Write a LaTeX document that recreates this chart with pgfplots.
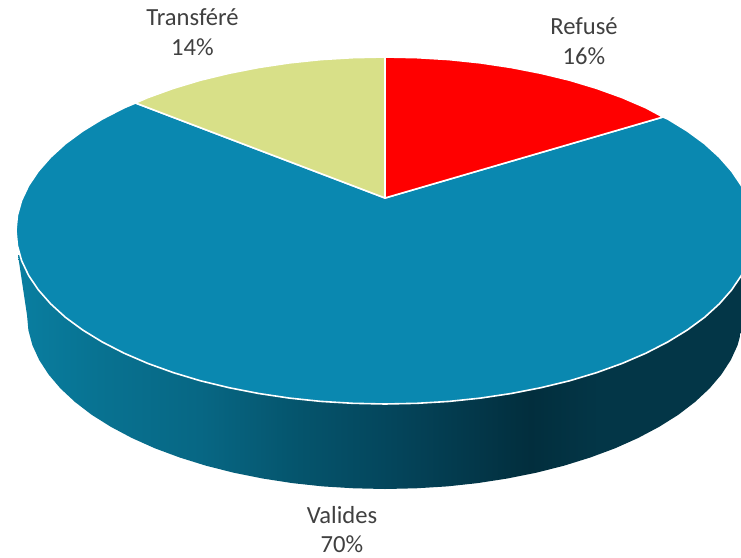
\documentclass[border=0pt]{standalone}
\usepackage{fontspec}
\setmainfont{Carlito}
\usepackage{pgfplots}
\pgfplotsset{compat=1.18}
\definecolor{topblue}{RGB}{10,136,176}
\definecolor{lblgray}{RGB}{64,64,64}
\definecolor{trgreen}{RGB}{216,224,136}
\definecolor{s0}{RGB}{9,126,160}
\definecolor{s1}{RGB}{8,114,145}
\definecolor{s2}{RGB}{7,103,132}
\definecolor{s3}{RGB}{5,84,108}
\definecolor{s4}{RGB}{4,68,90}
\definecolor{s5}{RGB}{2,46,61}
\definecolor{s6}{RGB}{3,54,71}
\pgfdeclarehorizontalshading{sidefill}{100bp}{
 color(0bp)=(s0); color(25bp)=(s0); color(30.6bp)=(s1); color(37.4bp)=(s2);
 color(44.2bp)=(s3); color(51bp)=(s4); color(59.9bp)=(s5); color(64.6bp)=(s6);
 color(75bp)=(s6); color(100bp)=(s6)}
\tikzset{lbl/.style={font=\fontsize{24.6}{24.6}\selectfont, text=lblgray, anchor=base, inner sep=0pt}}
\begin{document}
\begin{tikzpicture}
\begin{axis}[
  scale only axis, width=741pt, height=557pt,
  xmin=0, xmax=741, ymin=0, ymax=557, y dir=reverse,
  hide axis, clip=true,
  every axis plot/.append style={line join=round},
]
% side wall
\addplot[shading=sidefill, draw=none, forget plot] coordinates {
 (18,255) (27,315) (28.4,330.2) (32.4,345.2) (39.2,360) (48.6,374.5) (60.5,388.5) (75,402)
 (91.7,414.8) (110.8,426.8) (131.9,438) (154.9,448.3) (179.7,457.5) (206,465.7) (233.7,472.7)
 (262.6,478.5) (292.3,483.1) (322.8,486.4) (353.8,488.3) (385,489) (416.2,488.3) (447.2,486.4)
 (477.7,483.1) (507.4,478.5) (536.3,472.7) (564,465.7) (590.3,457.5) (615.1,448.3) (638.1,438)
 (659.2,426.8) (678.3,414.8) (695,402) (709.5,388.5) (721.4,374.5) (730.8,360) (737.6,345.2)
 (741.6,330.2) (743,315) (752,255) } --cycle;
% Valides 70%
\addplot[fill=topblue, draw=white, line width=1.6pt, forget plot] coordinates {
 (385,198) (663,117) (667.7,119) (687.3,131) (704.6,143.7) (719.4,157.2) (731.7,171.2)
 (741.4,185.6) (748.4,200.4) (752.6,215.4) (754,230.5) (752.6,245.6) (748.4,260.6)
 (741.4,275.4) (731.7,289.8) (719.4,303.8) (704.6,317.3) (687.3,330) (667.7,342) (645.9,353.2)
 (622.2,363.4) (596.7,372.6) (569.5,380.8) (540.9,387.7) (511.2,393.5) (480.5,398.1)
 (449.1,401.4) (417.2,403.3) (385,404) (352.8,403.3) (320.9,401.4) (289.5,398.1) (258.8,393.5)
 (229.1,387.7) (200.5,380.8) (173.3,372.6) (147.8,363.4) (124.1,353.2) (102.3,342) (82.7,330)
 (65.4,317.3) (50.6,303.8) (38.3,289.8) (28.6,275.4) (21.6,260.6) (17.4,245.6) (16,230.5)
 (17.4,215.4) (21.6,200.4) (28.6,185.6) (38.3,171.2) (50.6,157.2) (65.4,143.7) (82.7,131)
 (102.3,119) (124.1,107.8) (135.5,103) } --cycle;
% Transfere 14%
\addplot[fill=trgreen, draw=white, line width=1.6pt, forget plot] coordinates {
 (385,198) (135.5,103) (147.8,97.6) (173.3,88.4) (200.5,80.2) (229.1,73.3) (258.8,67.5)
 (289.5,62.9) (320.9,59.6) (352.8,57.7) (385,57) } --cycle;
% Refuse 16%
\addplot[fill=red, draw=white, line width=1.6pt, forget plot] coordinates {
 (385,198) (385,57) (417.2,57.7) (449.1,59.6) (480.5,62.9) (511.2,67.5) (540.9,73.3)
 (569.5,80.2) (596.7,88.4) (622.2,97.6) (645.9,107.8) (663,117) } --cycle;
\node[lbl] at (axis cs:192.5,25) {Transféré};
\node[lbl] at (axis cs:192.5,55) {14\%};
\node[lbl] at (axis cs:584,34) {Refusé};
\node[lbl] at (axis cs:584,64) {16\%};
\node[lbl] at (axis cs:342,523) {Valides};
\node[lbl] at (axis cs:342,552) {70\%};
\end{axis}
\pgfresetboundingbox
\path[use as bounding box] (current axis.south west) rectangle (current axis.north east);
\end{tikzpicture}
\end{document}
